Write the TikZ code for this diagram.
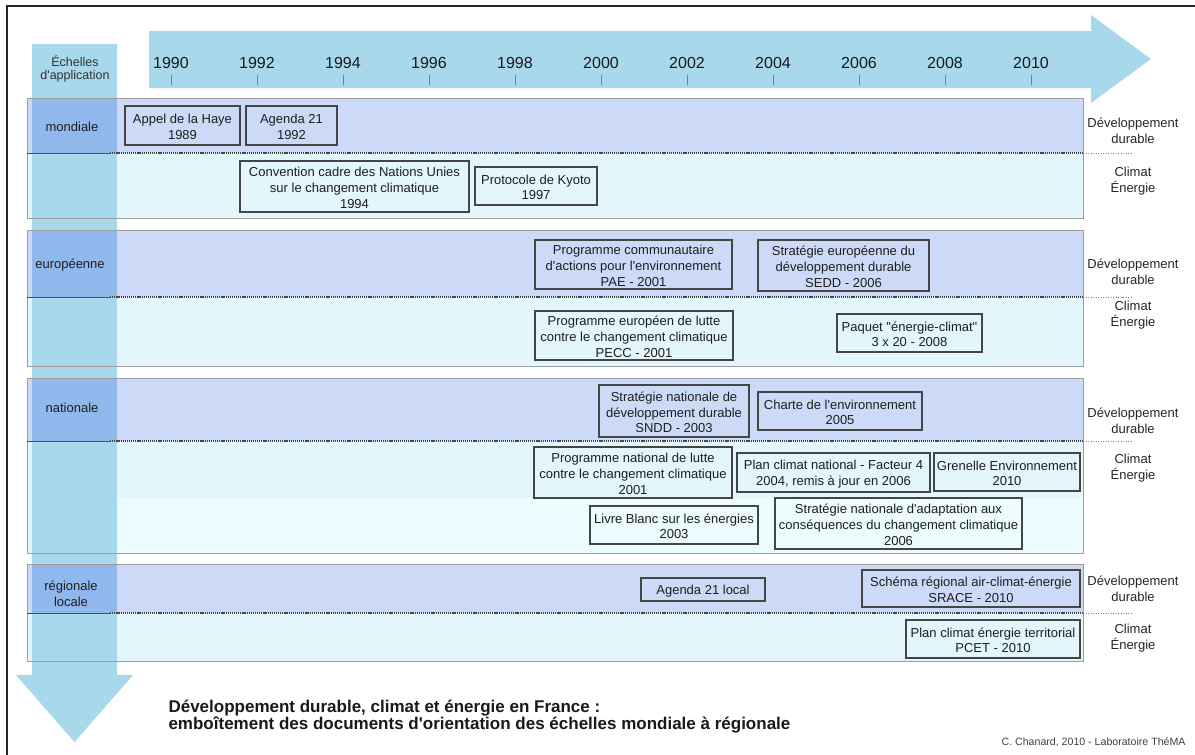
\documentclass[tikz,border=0pt]{standalone}
\usepackage{fontspec}
\defaultfontfeatures[\rmfamily,\sffamily]{}
\setmainfont{Liberation Sans}
\definecolor{arrowc}{HTML}{A8D8EC}
\definecolor{arrowdk}{HTML}{90B8EC}
\definecolor{lav}{HTML}{CCDAF8}
\definecolor{clim}{HTML}{E2F6FB}
\definecolor{climlt}{HTML}{ECFCFE}
\definecolor{bordgray}{HTML}{9E9E9E}
\definecolor{boxline}{HTML}{454545}
\definecolor{txt}{HTML}{1E1E1E}
\newcommand\docbox[6]{%
  \node[docframe, minimum width={(#4-#2)*1pt}, minimum height={(#5-#3)*1pt}] (#1) at ({(#2+#4)/2},{(#3+#5)/2}) {};
  \node[doctext] (#1-t) at ([yshift=-1.3pt]#1.center) {#6};}
\newcommand\scalegroup[4]{%
  \fill[lav] (27,#2) rectangle (1083,#3);
  \fill[clim] (27,#3) rectangle (1083,#4);
  \fill[arrowdk] (32,#2) rectangle (117,#3);
  \fill[arrowc] (32,#3) rectangle (117,#4);
  \coordinate (#1) at (27,#2);}
\newcommand\groupborder[3]{%
  \draw[bordgray, line width=1pt] (27,#1) rectangle (1083,#3);
  \draw[black!70, line width=0.9pt] (27,#2) -- (110,#2);
  \draw[black!72, line width=1.3pt, dash pattern=on 1.2pt off 0.9pt] (110,#2) -- (1083,#2);
  \draw[gray, line width=0.8pt, dash pattern=on 1pt off 1.5pt] (1083,#2) -- (1132,#2);}
\begin{document}
\begin{tikzpicture}[x=1pt,y=-1pt,
  docframe/.style={draw=boxline, line width=1.1pt, inner sep=0pt},
  doctext/.style={inner sep=0pt, align=center, text=txt, font=\fontsize{13}{15.8}\selectfont},
  yearlbl/.style={font=\fontsize{16}{18}\selectfont, text=black!90},
  sidelbl/.style={align=center, text=black!85, font=\fontsize{13}{15.5}\selectfont},
  scalelbl/.style={align=center, text=black!88, font=\fontsize{13}{15.5}\selectfont},
  ticklne/.style={draw=gray, line width=1pt}]
\useasboundingbox (0,0) rectangle (1195,755);
\fill[white] (0,0) rectangle (1195,755);
% frame
\draw[black!85, line width=1.6pt] (7,755) -- (7,6) -- (1195,6);
% horizontal time arrow
\fill[arrowc] (149,31) -- (1091,31) -- (1091,15) -- (1151,59) -- (1091,103) -- (1091,88) -- (149,88) -- cycle;
% vertical scale arrow
\fill[arrowc] (32,44) -- (117,44) -- (117,675) -- (133,675) -- (74.5,742) -- (16,675) -- (32,675) -- cycle;
% years
\foreach \yr [evaluate=\yr as \xx using {171+43*(\yr-1990)}] in {1990,1992,...,2010}{
  \node[yearlbl] (y\yr) at (\xx,63) {\yr};
  \draw[ticklne] (\xx,75) -- (\xx,85);
}
% groups
\scalegroup{gmond}{98}{153}{218}
\groupborder{98}{153}{218}
\scalegroup{geur}{230}{297}{366}
\groupborder{230}{297}{366}
\scalegroup{gnat}{378}{441}{553}
\fill[climlt] (117.5,498) rectangle (1082.5,552.5);
\groupborder{378}{441}{553}
\scalegroup{greg}{564}{613}{661}
\groupborder{564}{613}{661}
% left labels
\node[scalelbl, font=\fontsize{12.5}{13}\selectfont, text=black!80] (ech) at (75,69) {Échelles\\d'application};
\node[scalelbl] (lmond) at (72,127) {mondiale};
\node[scalelbl] (leur) at (70,265) {européenne};
\node[scalelbl] (lnat) at (72,408) {nationale};
\node[scalelbl] (lreg) at (71,594) {régionale\\locale};
% right labels
\node[sidelbl] (dd1) at (1133,131) {Développement\\durable};
\node[sidelbl] (ce1) at (1133,181) {Climat\\Énergie};
\node[sidelbl] (dd2) at (1133,272) {Développement\\durable};
\node[sidelbl] (ce2) at (1133,315) {Climat\\Énergie};
\node[sidelbl] (dd3) at (1133,421) {Développement\\durable};
\node[sidelbl] (ce3) at (1133,468) {Climat\\Énergie};
\node[sidelbl] (dd4) at (1133,589) {Développement\\durable};
\node[sidelbl] (ce4) at (1133,638) {Climat\\Énergie};
% document boxes
\docbox{haye}{125}{106}{240}{145}{Appel de la Haye\\1989}
\docbox{agd}{246}{106}{337}{145}{Agenda 21\\1992}
\docbox{cnu}{240}{161}{469}{212}{Convention cadre des Nations Unies\\sur le changement climatique\\1994}
\docbox{kyoto}{475}{167}{597}{205}{Protocole de Kyoto\\1997}
\docbox{pae}{535}{240}{732}{289}{Programme communautaire\\d'actions pour l'environnement\\PAE - 2001}
\docbox{sedd}{758}{240}{929}{291}{Stratégie européenne du\\développement durable\\SEDD - 2006}
\docbox{pecc}{535}{311}{733}{360}{Programme européen de lutte\\contre le changement climatique\\PECC - 2001}
\docbox{paq}{837}{314}{982}{352}{Paquet "énergie-climat"\\3 x 20 - 2008}
\docbox{sndd}{599}{385}{749}{437}{Stratégie nationale de\\développement durable\\SNDD - 2003}
\docbox{charte}{758}{392}{922}{430}{Charte de l'environnement\\2005}
\docbox{pnlcc}{534}{447}{732}{498}{Programme national  de lutte\\contre le changement climatique\\2001}
\docbox{pcn}{737}{453}{930}{492}{Plan climat national -  Facteur 4\\2004, remis à jour en 2006}
\docbox{gren}{934}{453}{1080}{491}{Grenelle Environnement\\2010}
\docbox{livre}{590}{506}{758}{544}{Livre Blanc sur les énergies\\2003}
\docbox{snacc}{775}{498}{1022}{549}{Stratégie nationale d'adaptation aux\\conséquences du changement climatique\\2006}
\docbox{agl}{641}{578}{765}{601}{Agenda 21 local}
\docbox{srace}{862}{570}{1080}{607}{Schéma régional air-climat-énergie\\SRACE - 2010}
\docbox{pcet}{906}{620}{1080}{658}{Plan climat énergie territorial\\PCET - 2010}
% title and credit
\node[anchor=west, align=left, font=\bfseries\fontsize{17}{17}\selectfont, text=black!90] (title) at (165,717)
  {Développement durable, climat et énergie en France :\\emboîtement des documents d'orientation des échelles mondiale à régionale};
\node[anchor=east, font=\fontsize{10.6}{12}\selectfont, text=black!75] (credit) at (1189,742) {C. Chanard, 2010 - Laboratoire ThéMA};
\end{tikzpicture}
\end{document}
